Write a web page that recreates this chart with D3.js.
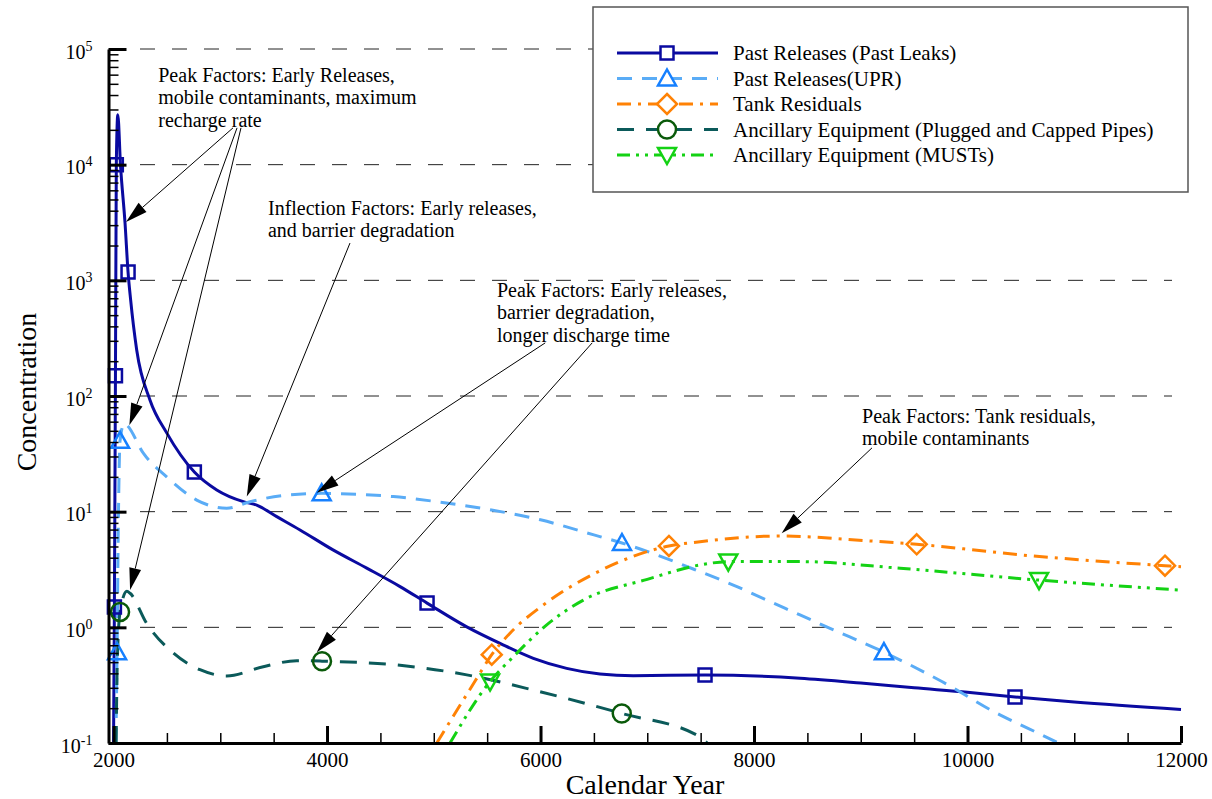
<!DOCTYPE html>
<html>
<head>
<meta charset="utf-8">
<script src="https://cdn.jsdelivr.net/npm/d3@7"></script>
<style>
  body { margin: 0; background: #fff; }
  svg { display: block; }
  text { font-family: "Liberation Serif", "Times New Roman", serif; fill: #000; }
</style>
</head>
<body>
<div id="chart"></div>
<script>
// Значения: [год, концентрация]
var pastLeaks = [[2000,0.1],[2008,1.5],[2018,150],[2026,1e4],[2040,27000],[2065,10000],[2108,3100],
  [2136,1180],[2160,680],[2217,250],[2342,92],[2498,48],[2757,22],[2967,15.4],[3216,12.2],[3341,11.4],
  [3529,9.06],[3747,6.95],[4056,4.67],[4372,3.25],[4684,2.25],[4937,1.62],[5309,1.01],[5621,0.727],
  [5933,0.54],[6245,0.442],[6557,0.395],[6869,0.382],[7541,0.387],[8431,0.363],[9000,0.33],
  [9500,0.30],[10000,0.275],[10445,0.25],[11000,0.226],[12000,0.195]];
var pastUPR = [[2022,0.1],[2033,0.61],[2045,8],[2061,41],[2100,58],[2124,56],[2279,32],[2498,20],
  [2779,12.6],[3060,10.7],[3279,12.2],[3622,13.9],[3950,14.4],[4309,14.1],[4621,13.5],[5000,12.3],
  [5500,10.5],[6000,8.5],[6500,6.3],[6763,5.36],[7494,3.03],[7806,2.32],[8119,1.72],[8431,1.28],
  [8712,0.98],[9217,0.61],[9760,0.34],[10304,0.175],[10567,0.134],[10850,0.1]];
var tankResiduals = [[5028,0.1],[5393,0.35],[5543,0.58],[5714,0.89],[6026,1.56],[6500,2.9],
  [7203,5.05],[7494,5.5],[8244,6.16],[9056,5.61],[9524,5.22],[10614,4.14],[11850,3.41],[12000,3.34]];
var cappedPipes = [[2024,0.1],[2035,0.5],[2061,1.36],[2125,2.05],[2155,1.97],[2311,1.08],[2560,0.60],
  [2810,0.43],[3060,0.38],[3403,0.457],[3716,0.515],[3953,0.51],[4684,0.47],[5309,0.388],
  [5933,0.287],[6761,0.18],[7494,0.113],[7560,0.1]];
var musts = [[5152,0.1],[5527,0.34],[5745,0.557],[6058,1.05],[6401,1.72],[7000,2.6],[7494,3.46],
  [7759,3.7],[8431,3.7],[9368,3.24],[10670,2.56],[11991,2.1]];

// точки маркеров
var leaksMarks = [[2008,1.5],[2018,150],[2026,1e4],[2136,1180],[2757,22],[4937,1.62],[7541,0.387],[10445,0.25]];
var uprMarks = [[2033,0.61],[2061,41],[3950,14.4],[6763,5.36],[9217,0.61]];
var tankMarks = [[5543,0.58],[7203,5.05],[9524,5.22],[11850,3.41]];
var pipesMarks = [[2061,1.36],[3953,0.51],[6761,0.18]];
var mustsMarks = [[5527,0.34],[7759,3.7],[10670,2.56]];

var seriesNames = ["Past Releases (Past Leaks)", "Past Releases(UPR)", "Tank Residuals",
  "Ancillary Equipment (Plugged and Capped Pipes)", "Ancillary Equipment (MUSTs)"];

var xTicks = [2000, 4000, 6000, 8000, 10000, 12000];
var yTicks = [0.1, 1, 10, 100, 1000, 10000, 100000];
var yTickExp = ["-1", "0", "1", "2", "3", "4", "5"];

// подписи со стрелками: текст, позиция текста, начало и конец стрелок (в единицах данных)
var notes = [
  { lines: ["Peak Factors: Early Releases,", "mobile contaminants, maximum", "recharge rate"], at: [2419, 52000],
    arrows: [[[3119, 20800], [2117, 3200]], [[3157, 20800], [2148, 56]], [[3194, 20800], [2155, 2.1]]] },
  { lines: ["Inflection Factors: Early releases,", "and barrier degradation"], at: [3447, 3700],
    arrows: [[[4215, 2100], [3248, 13.5]]] },
  { lines: ["Peak Factors: Early releases,", "barrier degradation,", "longer discharge time"], at: [5592, 720],
    arrows: [[[6044, 288], [3904, 14.6]], [[6484, 288], [3904, 0.61]]] },
  { lines: ["Peak Factors: Tank residuals,", "mobile contaminants"], at: [9012, 58.5],
    arrows: [[[9105, 35.6], [8259, 6.5]]] }
];

var width = 1212, height = 799;
var x = d3.scaleLinear().domain([1950, 12000]).range([108.2, 1181]);
var y = d3.scaleLog().domain([0.1, 1e5]).range([743, 49]);

var svg = d3.select("#chart").append("svg")
    .attr("width", width)
    .attr("height", height);

// сетка
svg.append("g").selectAll("line")
    .data(yTicks.slice(1))
    .enter().append("line")
    .attr("x1", 140).attr("x2", 1172)
    .attr("y1", function (d) { return y(d); })
    .attr("y2", function (d) { return y(d); })
    .attr("stroke", "#222")
    .attr("stroke-width", 1)
    .attr("stroke-dasharray", "15,17");

svg.append("clipPath").attr("id", "clip")
    .append("rect").attr("x", 100).attr("y", 40).attr("width", 1090).attr("height", 704);

var line = d3.line()
    .x(function (d) { return x(d[0]); })
    .y(function (d) { return y(d[1]); })
    .curve(d3.curveMonotoneX);

var styles = [
  { data: pastLeaks, marks: leaksMarks, color: "#0a0aa0", mcolor: "#0a0aa0", dash: null, shape: "square" },
  { data: pastUPR, marks: uprMarks, color: "#5aacf6", mcolor: "#1680ff", dash: "15,10", shape: "tri" },
  { data: tankResiduals, marks: tankMarks, color: "#ff8205", mcolor: "#ff8205", dash: "14,7,3,7", shape: "diamond" },
  { data: cappedPipes, marks: pipesMarks, color: "#0b5a5a", mcolor: "#0a5a0a", dash: "17,12", shape: "circle" },
  { data: musts, marks: mustsMarks, color: "#14d214", mcolor: "#14d214", dash: "13,6,3,6,3,6", shape: "tridown" }
];

var shapes = {
  square: "M-6.5,-6.5h13v13h-13z",
  tri: "M0,-9L9,7L-9,7Z",
  diamond: "M0,-10L10,0L0,10L-10,0Z",
  circle: d3.symbol(d3.symbolCircle, Math.PI * 81)(),
  tridown: "M0,9L9,-7L-9,-7Z"
};

var plot = svg.append("g").attr("clip-path", "url(#clip)");

styles.forEach(function (s) {
  plot.append("path")
      .datum(s.data)
      .attr("fill", "none")
      .attr("stroke", s.color)
      .attr("stroke-width", 3)
      .attr("stroke-dasharray", s.dash)
      .attr("d", line);
});
styles.forEach(function (s) {
  plot.selectAll(null)
      .data(s.marks)
      .enter().append("path")
      .attr("transform", function (d) { return "translate(" + x(d[0]) + "," + y(d[1]) + ")"; })
      .attr("d", shapes[s.shape])
      .attr("fill", "none")
      .attr("stroke", s.mcolor)
      .attr("stroke-width", 2.5);
});

// оси
var yMinor = [];
yTicks.slice(0, -1).forEach(function (t) {
  for (var k = 2; k < 10; k++) yMinor.push(t * k);
});
var xMinor = d3.range(2500, 12000, 500).filter(function (v) { return v % 2000 !== 0; });

var yAxisG = svg.append("g").attr("transform", "translate(108.5,0)");
yAxisG.append("g")
    .call(d3.axisLeft(y).tickValues(yMinor).tickSizeInner(-10).tickSizeOuter(0).tickFormat(""))
    .call(function (g) { g.select(".domain").remove(); g.selectAll("line").attr("stroke-width", 1.5); });
yAxisG.append("g")
    .call(d3.axisLeft(y).tickValues(yTicks).tickSizeInner(-18).tickSizeOuter(0).tickPadding(16).tickFormat(""))
    .call(function (g) {
      g.select(".domain").attr("stroke-width", 3);
      g.selectAll("line").attr("stroke-width", 3);
      g.selectAll("text").each(function (d, i) {
        var t = d3.select(this).attr("dy", "0.45em").attr("font-size", 20)
            .attr("font-family", "Liberation Serif");
        t.append("tspan").text("10");
        t.append("tspan").attr("dy", -8).attr("font-size", 14).text(yTickExp[i]);
      });
    });

var xAxisG = svg.append("g").attr("transform", "translate(0,743)");
xAxisG.append("g")
    .call(d3.axisBottom(x).tickValues(xMinor).tickSizeInner(-10).tickSizeOuter(0).tickFormat(""))
    .call(function (g) { g.select(".domain").remove(); g.selectAll("line").attr("stroke-width", 1.5); });
xAxisG.append("g")
    .call(d3.axisBottom(x).tickValues(xTicks).tickSizeInner(-17).tickSizeOuter(0).tickPadding(9).tickFormat(d3.format("d")))
    .call(function (g) {
      g.select(".domain").attr("stroke-width", 3);
      g.selectAll("line").attr("stroke-width", 3);
      g.selectAll("text").attr("font-size", 21).attr("font-family", "Liberation Serif");
    });

// подписи осей
svg.append("text")
    .attr("x", 645).attr("y", 794)
    .attr("text-anchor", "middle")
    .attr("font-size", 28)
    .text("Calendar Year");
svg.append("text")
    .attr("transform", "translate(36,392) rotate(-90)")
    .attr("text-anchor", "middle")
    .attr("font-size", 28)
    .text("Concentration");

// аннотации
function arrow(g, a, b) {
  var x1 = x(a[0]), y1 = y(a[1]), x2 = x(b[0]), y2 = y(b[1]);
  var ang = Math.atan2(y2 - y1, x2 - x1), L = 22, w = 6;
  var bx = x2 - L * Math.cos(ang), by = y2 - L * Math.sin(ang);
  g.append("line").attr("x1", x1).attr("y1", y1).attr("x2", bx).attr("y2", by)
      .attr("stroke", "#000").attr("stroke-width", 1);
  g.append("path")
      .attr("d", "M" + x2 + "," + y2 +
        "L" + (bx + w * Math.sin(ang)) + "," + (by - w * Math.cos(ang)) +
        "L" + (bx - w * Math.sin(ang)) + "," + (by + w * Math.cos(ang)) + "Z")
      .attr("fill", "#000");
}
var noteG = svg.append("g");
notes.forEach(function (n) {
  n.lines.forEach(function (s, i) {
    noteG.append("text")
        .attr("x", x(n.at[0]))
        .attr("y", y(n.at[1]) + i * 22.5)
        .attr("font-size", 20)
        .text(s);
  });
  n.arrows.forEach(function (ar) { arrow(noteG, ar[0], ar[1]); });
});

// легенда
var leg = svg.append("g");
leg.append("rect")
    .attr("x", 593).attr("y", 7).attr("width", 595).attr("height", 185)
    .attr("fill", "#fff").attr("stroke", "#555").attr("stroke-width", 1.5);
var rowY = d3.scalePoint().domain(d3.range(5)).range([53, 155]);
styles.forEach(function (s, i) {
  var cy = rowY(i);
  leg.append("line")
      .attr("x1", 617).attr("x2", 718).attr("y1", cy).attr("y2", cy)
      .attr("stroke", s.color).attr("stroke-width", 3)
      .attr("stroke-dasharray", s.dash);
  leg.append("path")
      .attr("transform", "translate(667," + cy + ")")
      .attr("d", shapes[s.shape])
      .attr("fill", "#fff")
      .attr("stroke", s.mcolor).attr("stroke-width", 2.5);
  leg.append("text")
      .attr("x", 733).attr("y", cy + 7)
      .attr("font-size", 21)
      .text(seriesNames[i]);
});
</script>
</body>
</html>
